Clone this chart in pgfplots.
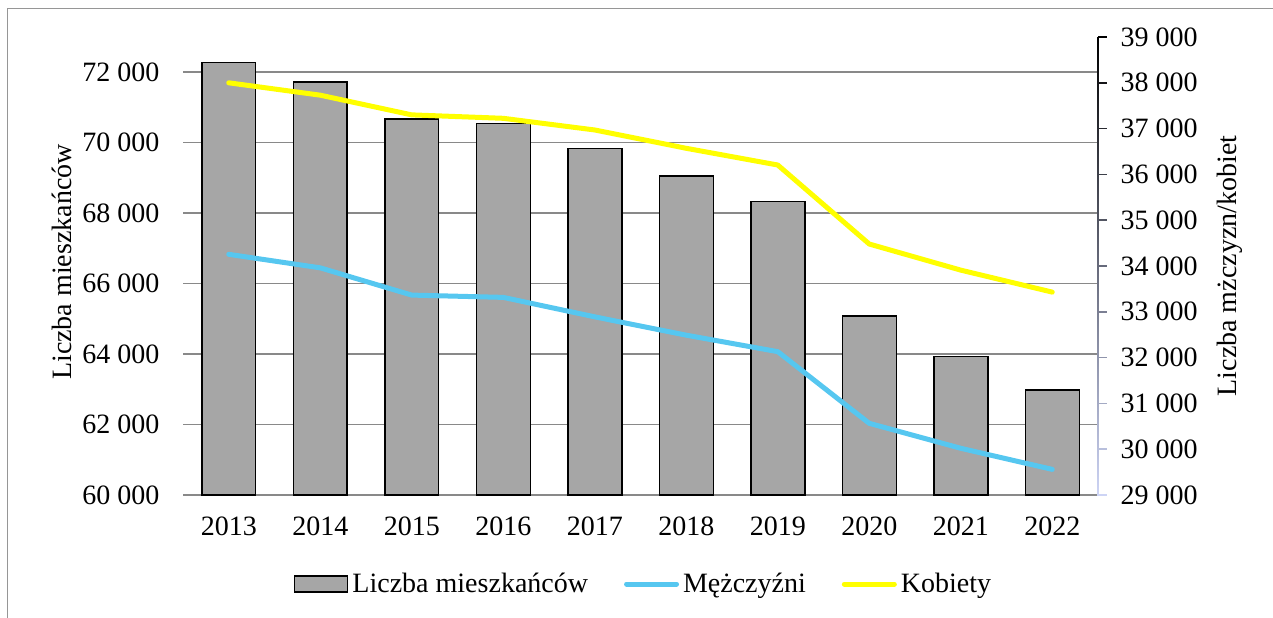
\documentclass[border=0pt]{standalone}
\usepackage{pgfplots}
\pgfplotsset{compat=1.18}
\usepackage{fontspec}
\setmainfont{Liberation Serif}
\definecolor{bargray}{RGB}{166,166,166}
\definecolor{gridgray}{RGB}{137,137,137}
\definecolor{men}{RGB}{86,199,240}
\definecolor{women}{RGB}{255,255,0}
\definecolor{lav}{RGB}{205,212,245}
\definecolor{framegray}{RGB}{150,150,150}
\newcommand{\chartfont}{\fontsize{14}{16}\selectfont}
\begin{document}
\begin{tikzpicture}
\useasboundingbox (0,0) rectangle (636.5pt,-308.5pt);
\draw[framegray, line width=0.6pt] (3.75pt,-310pt) -- (3.75pt,-4.25pt) -- (640pt,-4.25pt);
% left axis: bars
\begin{axis}[
  at={(91.5pt,-247.5pt)}, anchor=south west,
  scale only axis, width=457.5pt, height=229pt,
  xmin=-0.5, xmax=9.5, ymin=60000, ymax=73000,
  ybar, bar width=0.59,
  xtick={0,...,9},
  xticklabels={2013,2014,2015,2016,2017,2018,2019,2020,2021,2022},
  ytick={60000,62000,...,72000},
  scaled y ticks=false,
  ymajorgrids, grid style={color=gridgray, line width=0.75pt},
  axis line style={draw=none},
  major tick length=0pt, tick style={draw=none},
  tick label style={font=\chartfont},
  xticklabel style={yshift=-7.6pt},
  yticklabel style={xshift=-8.3pt},
  /pgf/number format/fixed,
  /pgf/number format/1000 sep={\ },
  /pgf/number format/assume math mode=true,
  clip=false,
]
\addplot[fill=bargray, draw=black, line width=0.75pt] coordinates {
  (0,72280) (1,71730) (2,70670) (3,70550) (4,69840)
  (5,69050) (6,68335) (7,65075) (8,63935) (9,62985)};
\end{axis}
% right axis: lines
\begin{axis}[
  at={(91.5pt,-247.5pt)}, anchor=south west,
  scale only axis, width=457.5pt, height=229pt,
  xmin=-0.5, xmax=9.5, ymin=29000, ymax=39000,
  axis x line=none,
  axis y line*=right,
  axis line style={draw=none},
  ytick={29000,30000,...,39000},
  scaled y ticks=false,
  major tick length=0pt, tick style={draw=none},
  tick label style={font=\chartfont},
  yticklabel style={anchor=west, xshift=7.8pt},
  /pgf/number format/fixed,
  /pgf/number format/1000 sep={\ },
  /pgf/number format/assume math mode=true,
  clip=false,
  legend columns=3,
  legend style={draw=none, fill=none, font=\chartfont,
    at={(0.5044,-0.1943)}, anchor=center,
    /tikz/every even column/.append style={column sep=16pt},
    nodes={inner xsep=2pt, inner ysep=1pt}},
]
\addlegendimage{legend image code/.code={\draw[fill=bargray, draw=black, line width=0.75pt] (0pt,-4pt) rectangle (26.5pt,4pt);}}
\addlegendentry{Liczba mieszkańców}
\addplot[color=men, line width=2.5pt, line cap=round, line join=round,
  legend image code/.code={\draw[men, line width=2.5pt, line cap=round] (1.5pt,0pt) -- (26.5pt,0pt);}]
  coordinates {
  (0,34255) (1,33960) (2,33365) (3,33315) (4,32890)
  (5,32490) (6,32130) (7,30565) (8,30020) (9,29560)};
\addlegendentry{Mężczyźni}
\addplot[color=women, line width=2.5pt, line cap=round, line join=round,
  legend image code/.code={\draw[women, line width=2.5pt, line cap=round] (1.5pt,0pt) -- (26.5pt,0pt);}]
  coordinates {
  (0,38000) (1,37730) (2,37300) (3,37225) (4,36970)
  (5,36570) (6,36205) (7,34480) (8,33910) (9,33430)};
\addlegendentry{Kobiety}
\end{axis}
% right axis line with gradient and ticks
\shade[top color=black, bottom color=lav] (548.6pt,-18.5pt) rectangle (549.4pt,-247.5pt);
\foreach \i in {0,...,10} {
  \pgfmathtruncatemacro\p{100-10*\i}
  \draw[color=lav!\p!black, line width=0.75pt] (549pt,{-247.5pt+22.9pt*\i}) -- (553.5pt,{-247.5pt+22.9pt*\i});
}
% axis titles
\node[rotate=90, font=\chartfont] at (31pt,-131pt) {Liczba mieszkańców};
\node[rotate=90, font=\chartfont] at (615pt,-133pt) {Liczba mżczyzn/kobiet};
\end{tikzpicture}
\end{document}
